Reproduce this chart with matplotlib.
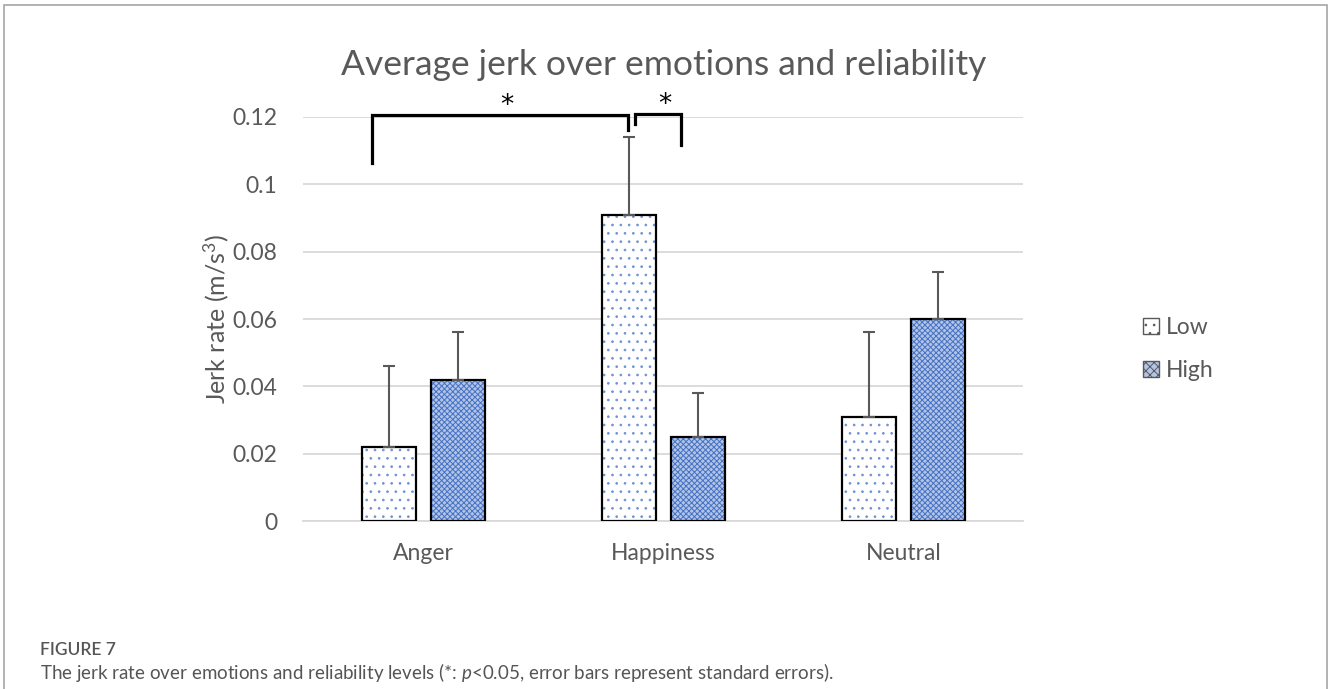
import matplotlib.pyplot as plt
import numpy as np
from matplotlib.patches import Patch, Rectangle

emotions = ["Anger", "Happiness", "Neutral"]
low_vals = [0.022, 0.091, 0.031]
high_vals = [0.042, 0.025, 0.060]
low_err = [0.024, 0.023, 0.025]
high_err = [0.014, 0.013, 0.014]
yticks = [0, 0.02, 0.04, 0.06, 0.08, 0.1, 0.12]
ytick_labels = ["0", "0.02", "0.04", "0.06", "0.08", "0.1", "0.12"]

# significance brackets: (x_left, x_right, y_top, y_left_end, y_right_end)
brackets = [(-0.215, 0.852, 0.1207, 0.1063, 0.116),
            (0.881, 1.073, 0.1210, 0.118, 0.1117)]

plt.rcParams['font.family'] = ['Lato', 'DejaVu Sans']
plt.rcParams['mathtext.fontset'] = 'custom'
plt.rcParams['mathtext.rm'] = 'Lato'
plt.rcParams['mathtext.it'] = 'Lato:italic'
plt.rcParams['hatch.linewidth'] = 0.7

grey = '#595959'
blue = '#4472c4'

fig = plt.figure(figsize=(13.28, 6.89), dpi=100)
ax = fig.add_axes([0.2285, 0.2438, 0.5422, 0.5864])

x = np.arange(len(emotions))
w = 0.227
off = 0.143

# low: white with blue dots
ax.bar(x - off, low_vals, w, color='white', edgecolor='#6f93d3', hatch='..', linewidth=0, zorder=2)
ax.bar(x - off, low_vals, w, fill=False, edgecolor='black', linewidth=1.6, zorder=3)
# high: dense blue checker
ax.bar(x + off, high_vals, w, color='#b3c4e6', edgecolor=blue, hatch='xxxxxx', linewidth=0, zorder=2)
ax.bar(x + off, high_vals, w, fill=False, edgecolor='black', linewidth=1.6, zorder=3)

ax.errorbar(x - off, low_vals, yerr=[np.zeros(3), low_err], fmt='none',
            ecolor=grey, elinewidth=1.5, capsize=4.5, capthick=1.5, zorder=4)
ax.errorbar(x + off, high_vals, yerr=[np.zeros(3), high_err], fmt='none',
            ecolor=grey, elinewidth=1.5, capsize=4.5, capthick=1.5, zorder=4)

for xl, xr, yt, yl, yr in brackets:
    ax.plot([xl, xl, xr, xr], [yl, yt, yt, yr], color='black', lw=2.3,
            clip_on=False, solid_joinstyle='miter', zorder=5)
    ax.text((xl + xr) / 2 + 0.03, yt - 0.0012, "*", ha='center', va='bottom',
            fontsize=19, color='black', family='DejaVu Sans', clip_on=False)

ax.set_xlim(-0.5, 2.5)
ax.set_ylim(0, 0.12)
ax.set_yticks(yticks)
ax.set_yticklabels(ytick_labels)
ax.set_xticks(x)
ax.set_xticklabels(emotions)
ax.tick_params(length=0, labelsize=16.5, colors=grey)
ax.tick_params(axis='y', pad=19)
ax.tick_params(axis='x', pad=16)
ax.yaxis.grid(True, color='#d9d9d9', lw=1.3, zorder=0)
ax.set_axisbelow(True)
for s in ['top', 'right', 'left']:
    ax.spines[s].set_visible(False)
ax.spines['bottom'].set_color('#d9d9d9')
ax.spines['bottom'].set_linewidth(1.3)

ax.set_ylabel("Jerk rate (m/s$^3$)", fontsize=18, color=grey)
ax.yaxis.set_label_coords(-0.1, 0.5)
ax.set_title("Average jerk over emotions and reliability", fontsize=25.5,
             color=grey, pad=30)

handles = [Patch(facecolor='white', edgecolor=grey, hatch='..', lw=1),
           Patch(facecolor='#b3c4e6', edgecolor=grey, hatch='xxxx', lw=1)]
fig.legend(handles, ["Low", "High"], loc='center left',
           bbox_to_anchor=(0.845, 0.493), frameon=False, fontsize=16.5,
           labelcolor=grey, handlelength=0.7, handleheight=0.7,
           handletextpad=0.3, labelspacing=0.95)

fig.patches.append(Rectangle((4 / 1328, -0.02), 1322.5 / 1328, 1.02 - 5 / 689,
                             transform=fig.transFigure, fill=False,
                             edgecolor='#a6a6a6', lw=1.2))

fig.text(40 / 1328, 1 - 650 / 689, "FIGURE 7", fontsize=12.5, color='#555555',
         weight='semibold', va='center')
fig.text(40 / 1328, 1 - 673 / 689,
         "The jerk rate over emotions and reliability levels (*: $\\it{p}$<0.05, "
         "error bars represent standard errors).",
         fontsize=13.5, color='#555555', va='center')

fig.savefig("out.png", dpi=100)
